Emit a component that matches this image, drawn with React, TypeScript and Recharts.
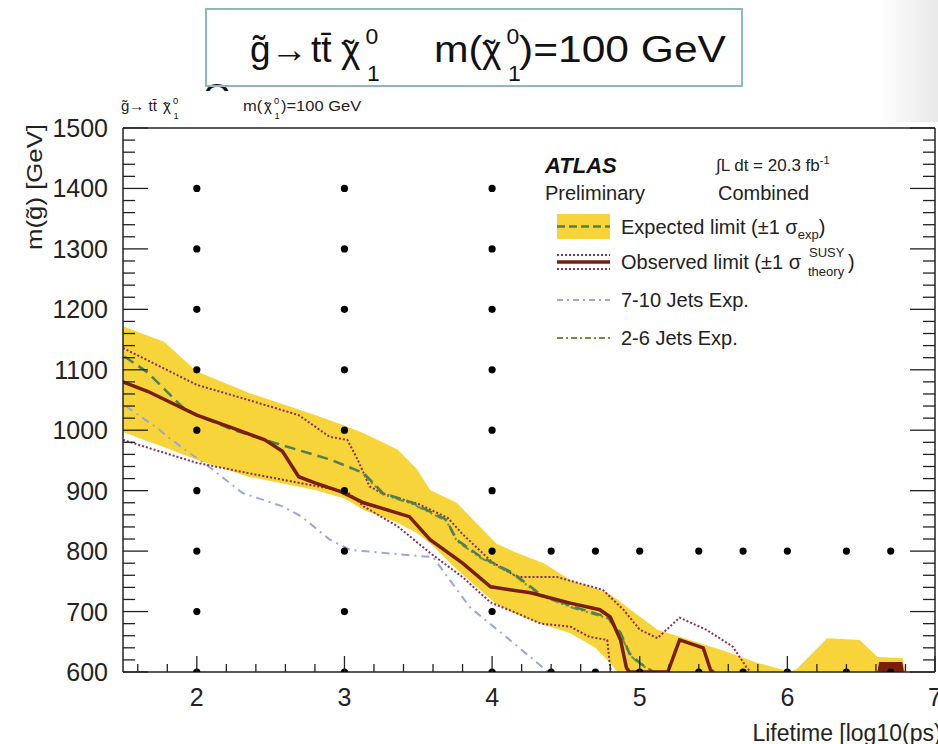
import React from 'react';
import { ComposedChart, XAxis, YAxis, Line, Area, Scatter } from 'recharts';

const FONT = '"Liberation Sans", Arial, Helvetica, sans-serif';

// expected limit +-1 sigma band (lifetime, low, high)
const bandLifetime = [1.5, 1.78, 2.0, 2.35, 2.8, 3.0, 3.13, 3.36, 3.49, 3.58, 3.76, 3.9, 4.03, 4.17, 4.35, 4.53, 4.7, 4.78, 4.85, 4.91, 5.12, 5.34, 5.56, 5.8, 5.95, 6.02, 6.06, 6.27, 6.49, 6.61, 6.78, 6.8];
const bandLow = [997, 972, 951, 923, 901, 887, 868, 847, 830, 813, 770, 740, 712, 695, 678, 664, 640, 620, 600, 600, 600, 600, 600, 600, 600, 600, 600, 600, 600, 600, 600, 600];
const bandHigh = [1172, 1146, 1097, 1062, 1025, 1008, 995, 968, 936, 901, 880, 845, 812, 797, 780, 752, 738, 731, 720, 708, 670, 653, 636, 615, 605, 601, 604, 656, 653, 625, 623, 600];

// expected limit (dashed)
const expLifetime = [1.51, 1.67, 1.9, 2.0, 2.24, 2.46, 2.69, 2.91, 3.13, 3.26, 3.46, 3.69, 3.76, 3.92, 4.14, 4.33, 4.55, 4.78, 4.87, 4.93, 5.0, 5.09, 5.2];
const expMass = [1122, 1095, 1039, 1025, 1001, 984, 967, 951, 929, 896, 880, 852, 819, 791, 764, 728, 708, 691, 665, 631, 615, 600, 600];

// observed limit (solid)
const obsLifetime = [1.5, 1.67, 2.0, 2.24, 2.46, 2.58, 2.69, 2.8, 2.98, 3.13, 3.44, 3.58, 3.8, 3.99, 4.26, 4.53, 4.73, 4.8, 4.87, 4.91, 4.93, 5.19, 5.27, 5.43, 5.48, 5.5];
const obsMass = [1080, 1064, 1025, 1004, 984, 965, 923, 913, 898, 880, 857, 819, 780, 741, 731, 714, 703, 691, 653, 607, 600, 600, 653, 640, 603, 600];
const obsIslandLifetime = [6.62, 6.63, 6.77, 6.78];
const obsIslandMass = [600, 614, 614, 600];

// observed +1 sigma theory (dotted)
const obsUpLifetime = [1.5, 2.0, 2.35, 2.69, 2.9, 3.02, 3.09, 3.17, 3.26, 3.5, 3.7, 3.8, 4.0, 4.17, 4.33, 4.44, 4.75, 4.89, 5.0, 5.12, 5.27, 5.45, 5.63, 5.72, 5.75];
const obsUpMass = [1136, 1075, 1050, 1025, 989, 984, 951, 907, 895, 878, 855, 828, 782, 757, 757, 757, 736, 703, 670, 656, 690, 670, 642, 609, 600];

// observed -1 sigma theory (dotted)
const obsDownLifetime = [1.5, 1.67, 2.0, 2.35, 2.69, 3.02, 3.13, 3.36, 3.58, 3.8, 3.99, 4.17, 4.33, 4.53, 4.66, 4.78, 4.8, 4.81];
const obsDownMass = [984, 971, 946, 929, 913, 898, 874, 841, 797, 757, 715, 697, 680, 675, 658, 653, 607, 600];

// 7-10 jets expected
const jets710Lifetime = [1.52, 1.58, 1.72, 1.83, 1.97, 2.08, 2.31, 2.58, 2.71, 2.9, 3.04, 3.36, 3.6, 3.85, 4.12, 4.38];
const jets710Mass = [1040, 1029, 1006, 984, 959, 940, 896, 874, 857, 819, 802, 795, 790, 707, 653, 600];

// 2-6 jets expected
const jets26Lifetime = [3.13, 3.26, 3.46, 3.69, 3.76, 3.92, 4.14, 4.33, 4.55, 4.78, 4.87, 4.93, 5.0, 5.1];
const jets26Mass = [927, 894, 878, 850, 817, 789, 762, 726, 706, 689, 663, 629, 613, 600];

// signal grid points
const gridLifetime = [2, 3, 4];
const gridMass = [600, 700, 800, 900, 1000, 1100, 1200, 1300, 1400];
const extraLifetime = [4.4, 4.7, 5.0, 5.4, 5.7, 6.0, 6.4, 6.7];
const extraMass = [600, 800];

const xTicks = Array.from({ length: 28 }, (_, i) => Math.round((1.6 + i * 0.2) * 10) / 10);
const yTicks = Array.from({ length: 46 }, (_, i) => 600 + i * 20);

const toPoints = (xs: number[], ys: number[]) => xs.map((x, i) => ({ x, y: ys[i] }));

const bandData = bandLifetime.map((x, i) => ({ x, band: [bandLow[i], bandHigh[i]] }));
const gridPoints = [
  ...gridLifetime.flatMap((x) => gridMass.map((y) => ({ x, y }))),
  ...extraLifetime.flatMap((x) => extraMass.map((y) => ({ x, y }))),
];

const AX = '#222';
const isMajorX = (v: number) => Math.abs(v - Math.round(v)) < 1e-6;

const BottomTick = ({ x, y, payload }: any) => {
  const major = isMajorX(payload.value);
  return (
    <g>
      <line x1={x} x2={x} y1={y} y2={y - (major ? 16 : 8)} stroke={AX} strokeWidth={1.3} />
      {major && (
        <text x={x} y={y + 34} textAnchor="middle" fontSize={25} fontFamily={FONT} fill="#222">
          {payload.value}
        </text>
      )}
    </g>
  );
};

const TopTick = ({ x, y, payload }: any) => {
  const major = isMajorX(payload.value);
  return <line x1={x} x2={x} y1={y} y2={y + (major ? 16 : 8)} stroke={AX} strokeWidth={1.3} />;
};

const LeftTick = ({ x, y, payload }: any) => {
  const major = payload.value % 100 === 0;
  return (
    <g>
      <line x1={x} x2={x + (major ? 25 : 12)} y1={y} y2={y} stroke={AX} strokeWidth={1.3} />
      {major && (
        <text x={x - 15} y={y + 9} textAnchor="end" fontSize={25} fontFamily={FONT} fill="#222">
          {payload.value}
        </text>
      )}
    </g>
  );
};

const RightTick = ({ x, y, payload }: any) => {
  const major = payload.value % 100 === 0;
  return <line x1={x} x2={x - (major ? 25 : 12)} y1={y} y2={y} stroke={AX} strokeWidth={1.3} />;
};

const Dot = (p: any) => <circle cx={p.cx} cy={p.cy} r={3.6} fill="#000" />;

// text with a horizontal stretch, like the reference image
const T = ({ x, y, size, sx = 1, children, ...rest }: any) => (
  <text transform={`translate(${x},${y}) scale(${sx},1)`} fontSize={size} {...rest}>
    {children}
  </text>
);

// chi with a tilde on top, plus super 0 and sub 1
const Chi = ({ x, y, size, sx = 1 }: any) => (
  <g transform={`translate(${x},${y}) scale(${sx},1)`} fill="#111">
    <text x={0} y={0} fontSize={size}>χ</text>
    <text x={size * 0.06} y={size * 0.06} fontSize={size * 0.9}>˜</text>
    <text x={size * 0.66} y={-size * 0.5} fontSize={size * 0.62}>0</text>
    <text x={size * 0.7} y={size * 0.5} fontSize={size * 0.62}>1</text>
  </g>
);

const YELLOW = '#f7d43a';
const EXP = '#4f7f55';
const OBS = '#7b1f0d';
const THEORY = '#8a2d55';
const J710 = '#9aa6dd';
const J26 = '#6f8f3f';

export default function App() {
  return (
    <div style={{ position: 'absolute', left: 0, top: 0, width: 938, height: 744, background: '#fff', overflow: 'hidden' }}>
      <svg width={938} height={744} style={{ position: 'absolute', left: 0, top: 0 }}>
        <defs>
          <linearGradient id="shade" x1="0" x2="1" y1="0" y2="0">
            <stop offset="0" stopColor="#fff" />
            <stop offset="1" stopColor="#e9e9e9" />
          </linearGradient>
        </defs>
        <rect x={880} y={0} width={58} height={122} fill="url(#shade)" />
      </svg>
      <div style={{ position: 'absolute', left: 0, top: 0 }}>
        <ComposedChart
          width={938}
          height={744}
          margin={{ top: 127, right: 2, bottom: 71, left: 122 }}
        >
          <XAxis
            xAxisId={0}
            dataKey="x"
            type="number"
            domain={[1.5, 7]}
            allowDataOverflow
            ticks={xTicks}
            interval={0}
            height={1}
            tickSize={0}
            tickMargin={0}
            tickLine={false}
            tick={BottomTick}
            axisLine={{ stroke: AX, strokeWidth: 1.5 }}
          />
          <XAxis
            xAxisId="top"
            orientation="top"
            type="number"
            domain={[1.5, 7]}
            allowDataOverflow
            ticks={xTicks}
            interval={0}
            height={1}
            tickSize={0}
            tickMargin={0}
            tickLine={false}
            tick={TopTick}
            axisLine={{ stroke: AX, strokeWidth: 1.5 }}
          />
          <YAxis
            yAxisId={0}
            dataKey="y"
            type="number"
            domain={[600, 1500]}
            allowDataOverflow
            ticks={yTicks}
            interval={0}
            width={1}
            tickSize={0}
            tickMargin={0}
            tickLine={false}
            tick={LeftTick}
            axisLine={{ stroke: AX, strokeWidth: 1.5 }}
          />
          <YAxis
            yAxisId="right"
            orientation="right"
            type="number"
            domain={[600, 1500]}
            allowDataOverflow
            ticks={yTicks}
            interval={0}
            width={1}
            tickSize={0}
            tickMargin={0}
            tickLine={false}
            tick={RightTick}
            axisLine={{ stroke: AX, strokeWidth: 1.5 }}
          />

          <Area
            data={bandData}
            dataKey="band"
            type="linear"
            stroke="none"
            fill={YELLOW}
            fillOpacity={1}
            isAnimationActive={false}
            activeDot={false}
          />
          <Line data={toPoints(jets710Lifetime, jets710Mass)} dataKey="y" type="linear" stroke={J710} strokeWidth={2} strokeDasharray="8 5 2 5" dot={false} activeDot={false} isAnimationActive={false} />
          <Line data={toPoints(obsDownLifetime, obsDownMass)} dataKey="y" type="linear" stroke={THEORY} strokeWidth={2} strokeDasharray="2 2" dot={false} activeDot={false} isAnimationActive={false} />
          <Line data={toPoints(obsUpLifetime, obsUpMass)} dataKey="y" type="linear" stroke={THEORY} strokeWidth={2} strokeDasharray="2 2" dot={false} activeDot={false} isAnimationActive={false} />
          <Line data={toPoints(jets26Lifetime, jets26Mass)} dataKey="y" type="linear" stroke={J26} strokeWidth={2} strokeDasharray="8 3 2 3 2 3" dot={false} activeDot={false} isAnimationActive={false} />
          <Line data={toPoints(expLifetime, expMass)} dataKey="y" type="linear" stroke={EXP} strokeWidth={2.5} strokeDasharray="11 6" dot={false} activeDot={false} isAnimationActive={false} />
          <Line data={toPoints(obsLifetime, obsMass)} dataKey="y" type="linear" stroke={OBS} strokeWidth={3.5} dot={false} activeDot={false} isAnimationActive={false} />
          <Area data={toPoints(obsIslandLifetime, obsIslandMass)} dataKey="y" type="linear" baseValue={600} stroke={OBS} strokeWidth={3} fill={OBS} fillOpacity={1} activeDot={false} isAnimationActive={false} />
          <Scatter data={gridPoints} dataKey="y" shape={Dot} isAnimationActive={false} />
        </ComposedChart>
      </div>

      <svg width={938} height={744} style={{ position: 'absolute', left: 0, top: 0, pointerEvents: 'none' }} fontFamily={FONT}>
        <defs>
          <clipPath id="oclip">
            <rect x={195} y={70} width={45} height={21} />
          </clipPath>
        </defs>
        <text x={203} y={110} fontSize={36} fill="#111" clipPath="url(#oclip)">O</text>

        {/* title box */}
        <rect x={206} y={9} width={536} height={77} fill="none" stroke="#8cb9bf" strokeWidth={2} />
        <T x={250} y={62} size={37} fill="#111">g̃→</T>
        <T x={311} y={62} size={37} fill="#111">tt̄</T>
        <Chi x={341} y={62} size={37} />
        <T x={434} y={62} size={37} sx={1.12} fill="#111">m(</T>
        <Chi x={482} y={62} size={37} sx={1.0} />
        <T x={519} y={62} size={37} sx={1.15} fill="#111">)=100 GeV</T>

        {/* small title */}
        <T x={121} y={111} size={15} fill="#222">g̃→ tt̄</T>
        <Chi x={163} y={111} size={15} />
        <T x={243} y={111} size={15} sx={1.1} fill="#222">m(</T>
        <Chi x={264} y={111} size={15} />
        <T x={281} y={111} size={15} sx={1.1} fill="#222">)=100 GeV</T>

        {/* axis titles */}
        <text x={948} y={741} fontSize={23} textAnchor="end" fill="#222">Lifetime [log10(ps)]</text>
        <text transform="translate(42,124) rotate(-90) scale(1.12,1)" fontSize={23} textAnchor="end" fill="#222">m(g̃) [GeV]</text>

        {/* ATLAS labels */}
        <text x={545} y={173} fontSize={22} fontWeight="bold" fontStyle="italic" fill="#111">ATLAS</text>
        <text x={545} y={200} fontSize={20} fill="#222">Preliminary</text>
        <text x={716} y={171} fontSize={17} fill="#222">∫L dt = 20.3 fb<tspan dy={-7} fontSize={11}>-1</tspan></text>
        <text x={718} y={200} fontSize={20} fill="#222">Combined</text>

        {/* legend */}
        <rect x={557} y={214} width={53} height={25} fill={YELLOW} />
        <line x1={557} x2={610} y1={226.5} y2={226.5} stroke={EXP} strokeWidth={2.5} strokeDasharray="8 4" />
        <text x={621} y={234} fontSize={20} fill="#222">
          Expected limit (±1 σ<tspan dy={5} fontSize={13}>exp</tspan><tspan dy={-5}>)</tspan>
        </text>

        <line x1={557} x2={610} y1={255} y2={255} stroke={THEORY} strokeWidth={2} strokeDasharray="2 2" />
        <line x1={557} x2={610} y1={262} y2={262} stroke={OBS} strokeWidth={3.5} />
        <line x1={557} x2={610} y1={269} y2={269} stroke={THEORY} strokeWidth={2} strokeDasharray="2 2" />
        <text x={621} y={269} fontSize={20} fill="#222">Observed limit (±1 σ</text>
        <text x={809} y={257} fontSize={13} fill="#222">SUSY</text>
        <text x={808} y={276} fontSize={13} fill="#222">theory</text>
        <text x={848} y={269} fontSize={20} fill="#222">)</text>

        <line x1={557} x2={610} y1={300} y2={300} stroke={J710} strokeWidth={2} strokeDasharray="6 4 2 4" />
        <text x={621} y={307} fontSize={20} fill="#222">7-10 Jets Exp.</text>

        <line x1={557} x2={610} y1={338} y2={338} stroke={J26} strokeWidth={2} strokeDasharray="6 3 2 3" />
        <text x={621} y={345} fontSize={20} fill="#222">2-6 Jets Exp.</text>
      </svg>
    </div>
  );
}
